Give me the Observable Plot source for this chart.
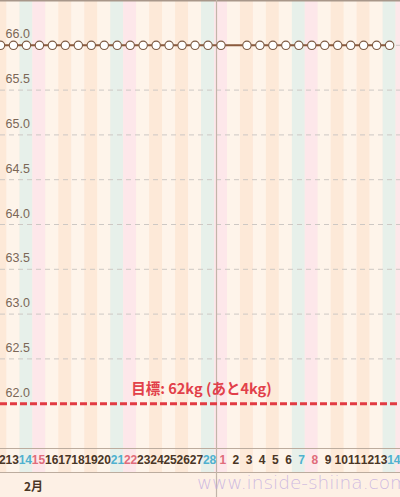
<!DOCTYPE html>
<html>
<head>
<meta charset="utf-8">
<script src="https://cdn.jsdelivr.net/npm/d3@7"></script>
<script src="https://cdn.jsdelivr.net/npm/@observablehq/plot@0.6"></script>
<style>
  html, body { margin: 0; padding: 0; background: #fdf0e5; }
  #chart svg { display: block; }
</style>
</head>
<body>
<div id="chart"></div>
<script>
// ---- data ----
const weightDates = ["2015-02-11","2015-02-12","2015-02-13","2015-02-14","2015-02-15","2015-02-16","2015-02-17","2015-02-18","2015-02-19","2015-02-20","2015-02-21","2015-02-22","2015-02-23","2015-02-24","2015-02-25","2015-02-26","2015-02-27","2015-02-28","2015-03-01","2015-03-03","2015-03-04","2015-03-05","2015-03-06","2015-03-07","2015-03-08","2015-03-09","2015-03-10","2015-03-11","2015-03-12","2015-03-13","2015-03-14"];
const weights = [66.0,66.0,66.0,66.0,66.0,66.0,66.0,66.0,66.0,66.0,66.0,66.0,66.0,66.0,66.0,66.0,66.0,66.0,66.0,66.0,66.0,66.0,66.0,66.0,66.0,66.0,66.0,66.0,66.0,66.0,66.0];
const yTicks = [66.0, 65.5, 65.0, 64.5, 64.0, 63.5, 63.0, 62.5, 62.0];
const goalValue = 62.0;
const goalLabel = "目標: 62kg (あと4kg)";
const monthLabel = "2月";
const watermark = "www.inside-shiina.com";
const firstDay = "2015-02-11", lastDay = "2015-03-15";
const monthStart = "2015-03-01";

// ---- build ----
const DAY = 864e5;
const parse = s => new Date(s + "T00:00:00Z");
const data = weightDates.map((d, i) => ({date: parse(d), w: weights[i]}));
const days = d3.utcDay.range(parse(firstDay), new Date(+parse(lastDay) + DAY));
const labelDays = days.slice(1, -1);
const origin = parse("2015-02-12");

const pxPerDay = 12.97;
const x0 = new Date(+origin - 0.0 / pxPerDay * DAY);
const x1 = new Date(+x0 + 400 / pxPerDay * DAY);
const xAtPx = px => new Date(+x0 + px / pxPerDay * DAY);
const dayIndex = d => Math.round((+d - +origin) / DAY);

const yTop = 66.5, yBot = 61.5;
const perPx = (yTop - yBot) / 448;
const yAt = px => yTop - px * perPx; // value at a pixel row

function stripeColor(d) {
  const wd = d.getUTCDay();
  if (wd === 6) return "#e7f0ea";
  if (wd === 0) return "#fde7ea";
  return (wd % 2 === 0) ? "#fde9d8" : "#fef4ea";
}
function labelColor(d) {
  const wd = d.getUTCDay();
  if (wd === 6) return "#4fb1cf";
  if (wd === 0) return "#e06c7a";
  return "#4a3626";
}

const chart = Plot.plot({
  width: 400,
  height: 497,
  marginTop: 0, marginBottom: 49, marginLeft: 0, marginRight: 0,
  x: {type: "utc", domain: [x0, x1], axis: null},
  y: {domain: [yBot, yTop], axis: null},
  style: {background: "#fdf0e5", fontFamily: "'Liberation Sans', Arial, sans-serif"},
  marks: [
    // day stripes (plot + label band), aligned with the day labels
    Plot.rect(days, {
      x1: d => new Date(+d - DAY / 2), x2: d => new Date(+d + DAY / 2),
      y1: yTop, y2: yAt(472),
      fill: stripeColor,
      transform: null
    }),
    // grid
    Plot.ruleY(yTicks.filter(v => v !== goalValue), {stroke: "#cdc8c4", strokeWidth: 1, strokeDasharray: "5,4"}),
    // top border
    Plot.ruleY([yTop], {stroke: "#a8978a", strokeWidth: 2}),
    // axis band borders
    Plot.ruleY([yBot, yAt(472)], {stroke: "#bcac9e", strokeWidth: 1}),
    // month separator
    Plot.ruleX([new Date(+parse(monthStart) - DAY / 2)], {y1: yTop, y2: yAt(497), dx: 2, stroke: "#c2b5a9", strokeWidth: 1.2}),
    // y labels
    Plot.text(yTicks, {
      x: () => x0, y: d => d, text: d => d.toFixed(1),
      dx: 5, dy: -11, textAnchor: "start", fill: "#7b6757", fontSize: 12.5
    }),
    // goal
    Plot.ruleY([goalValue], {stroke: "#e23b43", strokeWidth: 3, strokeDasharray: "7,3"}),
    Plot.text([goalLabel], {
      x: () => xAtPx(201), y: goalValue, dy: -14,
      text: d => d, fill: "#e2404a", fontSize: 14.5, fontWeight: "bold",
      fontFamily: "'Noto Sans CJK JP', sans-serif"
    }),
    // weight line + dots
    Plot.line(data, {x: "date", y: "w", stroke: "#8a5a3c", strokeWidth: 2, clip: true}),
    Plot.dot(data, {x: "date", y: "w", r: 4.2, fill: "white", stroke: "#7c5a42", strokeWidth: 1.1, clip: true}),
    // day labels (slightly wider spacing than the dots, as in the app)
    ...labelDays.map(d => Plot.text([d], {
      x: d => d, y: yAt(460), text: d => String(d.getUTCDate()),
      dx: -1.5 + 0.19 * dayIndex(d),
      fill: labelColor(d), fontSize: 12, fontWeight: "bold"
    })),
    // month label
    Plot.text([monthLabel], {
      x: () => xAtPx(33), y: yAt(487), text: d => d,
      fill: "#4a3626", fontSize: 12, fontWeight: "bold",
      fontFamily: "'Noto Sans CJK JP', sans-serif"
    }),
    // watermark
    Plot.text([watermark], {
      x: () => xAtPx(302), y: yAt(483), text: d => d,
      fill: "#bda8df", fillOpacity: 0.75, fontSize: 18.5, fontFamily: "'DejaVu Sans', sans-serif",
      fontWeight: 300
    })
  ]
});
document.getElementById("chart").append(chart);
</script>
</body>
</html>
